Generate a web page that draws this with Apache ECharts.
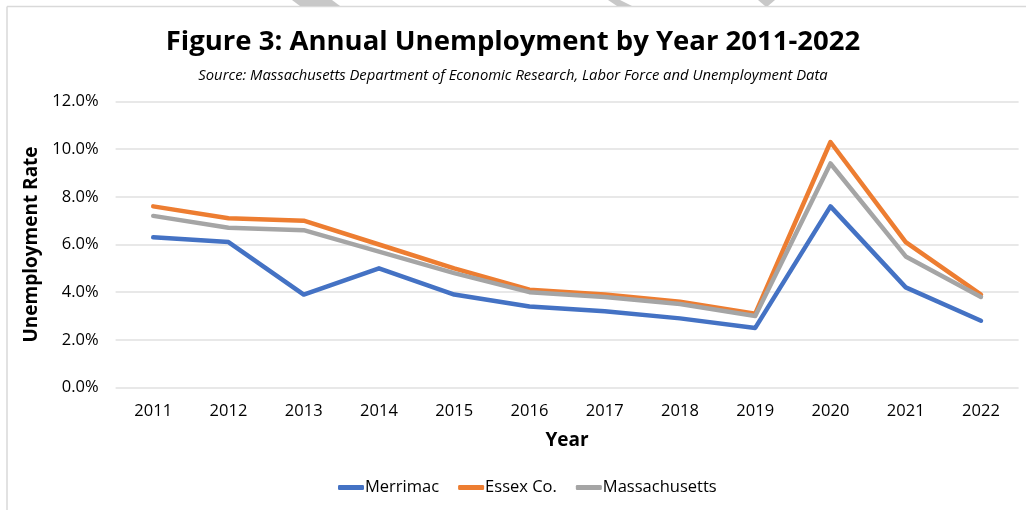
<!DOCTYPE html>
<html>
<head>
<meta charset="utf-8">
<script src="https://cdn.jsdelivr.net/npm/echarts@6/dist/echarts.min.js"></script>
<style>
  html, body { margin: 0; padding: 0; background: #fff; }
  #chart { width: 1026px; height: 510px; }
</style>
</head>
<body>
<div id="chart"></div>
<script>
// Annual unemployment rate (%) by year
const years = ['2011','2012','2013','2014','2015','2016','2017','2018','2019','2020','2021','2022'];
const merrimac      = [6.3, 6.1, 3.9, 5.0, 3.9, 3.4, 3.2, 2.9, 2.5, 7.6, 4.2, 2.8];
const essex         = [7.6, 7.1, 7.0, 6.0, 5.0, 4.1, 3.9, 3.6, 3.1, 10.3, 6.1, 3.9];
const massachusetts = [7.2, 6.7, 6.6, 5.7, 4.8, 4.0, 3.8, 3.5, 3.0, 9.4, 5.5, 3.8];
const seriesNames = ['Merrimac', 'Essex Co.', 'Massachusetts'];
const seriesColors = ['#4472C4', '#ED7D31', '#A5A5A5'];

const FONT = "'Open Sans', 'Noto Sans', sans-serif";
const chart = echarts.init(document.getElementById('chart'), null, { renderer: 'canvas' });

function lineSeries(name, data, color) {
  return {
    name: name,
    type: 'line',
    data: data,
    symbol: 'none',
    smooth: false,
    lineStyle: { width: 4.5, color: color, cap: 'round', join: 'round' },
    itemStyle: { color: color },
    emphasis: { disabled: true }
  };
}

chart.setOption({
  animation: false,
  backgroundColor: '#ffffff',
  graphic: [
    // frame edges
    { type: 'line', shape: { x1: 7, y1: 6.5, x2: 1026, y2: 6.5 }, style: { stroke: '#d9d9d9', lineWidth: 1.5 } },
    { type: 'line', shape: { x1: 7, y1: 6.5, x2: 7, y2: 510 }, style: { stroke: '#d9d9d9', lineWidth: 1.5 } },
    // light shapes peeking above the frame
    { type: 'polygon', shape: { points: [[292,0],[332,0],[340,6],[300,6]] }, style: { fill: '#c8c8c8' } },
    { type: 'polygon', shape: { points: [[608,0],[620,0],[632,6],[617,6]] }, style: { fill: '#c8c8c8' } },
    { type: 'polygon', shape: { points: [[758,0],[775,0],[768,6],[765,6]] }, style: { fill: '#c8c8c8' } }
  ],
  title: [
    {
      text: 'Figure 3: Annual Unemployment by Year 2011-2022',
      left: 'center',
      top: 23,
      textStyle: { fontFamily: FONT, fontSize: 27.5, fontWeight: 'bold', color: '#000000' }
    },
    {
      text: 'Source: Massachusetts Department of Economic Research, Labor Force and Unemployment Data',
      left: 'center',
      top: 63,
      textStyle: { fontFamily: FONT, fontSize: 14.8, fontStyle: 'italic', fontWeight: 'normal', color: '#000000' }
    }
  ],
  legend: {
    data: seriesNames,
    bottom: 9,
    left: 333,
    icon: 'roundRect',
    itemWidth: 26,
    itemHeight: 5,
    itemGap: 19,
    textStyle: { fontFamily: FONT, fontSize: 16.5, color: '#000000', padding: [0, 0, 0, -4] }
  },
  grid: { left: 115.6, right: 7.4, top: 101.5, bottom: 122.5 },
  xAxis: {
    type: 'category',
    data: years,
    boundaryGap: true,
    name: 'Year',
    nameLocation: 'middle',
    nameGap: 44,
    nameTextStyle: { fontFamily: FONT, fontSize: 19, fontWeight: 'bold', color: '#000000' },
    axisLine: { show: false },
    axisTick: { show: false },
    axisLabel: { fontFamily: FONT, fontSize: 16.5, color: '#000000', margin: 15 }
  },
  yAxis: {
    type: 'value',
    min: 0,
    max: 12,
    interval: 2,
    name: 'Unemployment Rate',
    nameLocation: 'middle',
    nameRotate: 90,
    nameGap: 67,
    nameTextStyle: { fontFamily: FONT, fontSize: 19, fontWeight: 'bold', color: '#000000' },
    axisLine: { show: false },
    axisTick: { show: false },
    axisLabel: {
      fontFamily: FONT, fontSize: 16.5, color: '#000000', margin: 17,
      formatter: v => v.toFixed(1) + '%'
    },
    splitLine: { lineStyle: { color: '#e0e0e0', width: 1.5 } }
  },
  series: [
    lineSeries(seriesNames[0], merrimac, seriesColors[0]),
    lineSeries(seriesNames[1], essex, seriesColors[1]),
    lineSeries(seriesNames[2], massachusetts, seriesColors[2])
  ]
});
</script>
</body>
</html>
